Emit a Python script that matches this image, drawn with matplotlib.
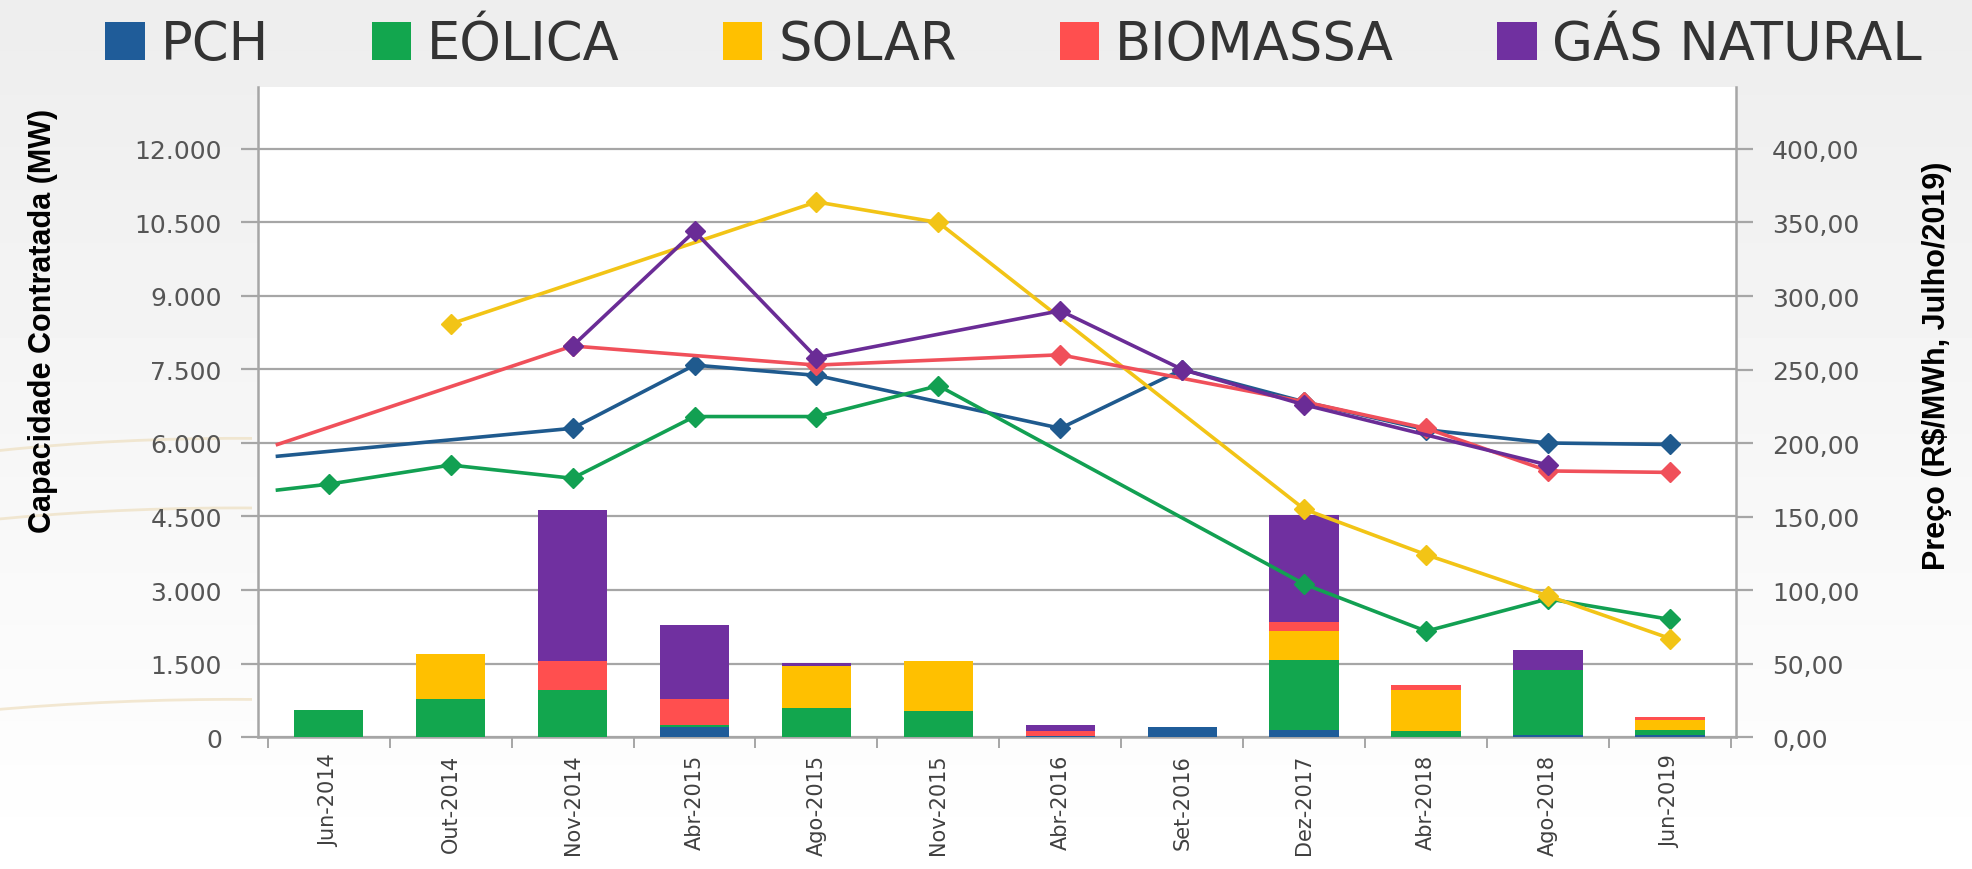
import numpy as np
import matplotlib
matplotlib.use('Agg')
import matplotlib.pyplot as plt
from matplotlib.patches import Patch, Arc, Rectangle

nan = np.nan

# dados
categorias = ['Jun-2014', 'Out-2014', 'Nov-2014', 'Abr-2015', 'Ago-2015', 'Nov-2015',
              'Abr-2016', 'Set-2016', 'Dez-2017', 'Abr-2018', 'Ago-2018', 'Jun-2019']
fontes = ['PCH', 'EÓLICA', 'SOLAR', 'BIOMASSA', 'GÁS NATURAL']

# capacidade contratada (MW), empilhada
pch = [0, 0, 0, 200, 0, 0, 20, 200, 150, 0, 40, 50]
eolica = [560, 770, 960, 40, 590, 530, 0, 0, 1430, 120, 1330, 90]
solar = [0, 920, 0, 0, 860, 1020, 0, 0, 580, 830, 0, 210]
biomassa = [0, 0, 600, 530, 0, 0, 110, 0, 190, 110, 0, 60]
gas = [0, 0, 3080, 1520, 70, 0, 110, 0, 2180, 0, 410, 0]

# preço (R$/MWh)
preco_pch = [nan, nan, 210, 253, 246, nan, 210, 250, 228, 209, 200, 199]
preco_eolica = [172, 185, 176, 218, 218, 239, nan, nan, 104, 72, 94, 80]
preco_solar = [nan, 281, nan, nan, 364, 350, nan, nan, 155, 124, 96, 67]
preco_biomassa = [nan, nan, 266, nan, 253, nan, 260, nan, 228, 210, 181, 180]
preco_gas = [nan, nan, 266, 344, 258, nan, 290, 250, 226, nan, 185, nan]
# leilão anterior (linha entra pela esquerda)
preco_anterior = [191, 168, nan, 199, nan]

cores_barra = ['#1F5C99', '#12A64E', '#FFC000', '#FF4F4F', '#7030A0']
cores_linha = ['#1F5A8E', '#12A052', '#F2C416', '#F0505A', '#6A2C96']

fig = plt.figure(figsize=(19.72, 8.7), dpi=100)

# fundo cinza claro com arcos discretos à esquerda
bg = fig.add_axes([0, 0, 1, 1], zorder=-10)
grad = np.linspace(0.93, 1.0, 100).reshape(-1, 1)
bg.imshow(grad, aspect='auto', cmap='gray', vmin=0, vmax=1, extent=[0, 1, 0, 1])
clip = Rectangle((0, 0), 0.128, 1, transform=bg.transAxes, visible=False)
bg.add_patch(clip)
for cy, w in [(0.02, 1.0), (-0.06, 1.05), (-0.28, 1.1)]:
    arco = Arc((0.12, cy), w, 0.95, theta1=60, theta2=175, color='#EEDFC0', lw=2, alpha=0.7)
    bg.add_patch(arco)
    arco.set_clip_path(clip)
bg.set_xlim(0, 1)
bg.set_ylim(0, 1)
bg.axis('off')

ax = fig.add_axes([0.1308, 0.1517, 0.7495, 0.7472])
ax.set_facecolor('white')
x = np.arange(len(categorias))

base = np.zeros(len(categorias))
for vals, cor in zip([pch, eolica, solar, biomassa, gas], cores_barra):
    ax.bar(x, vals, bottom=base, width=0.57, color=cor, zorder=3)
    base = base + np.array(vals)

ax.set_xlim(-0.58, 11.54)
ax.set_ylim(0, 13265)
yt = np.arange(0, 12001, 1500)
ax.set_yticks(yt)
ax.set_yticklabels([f'{v:,.0f}'.replace(',', '.') for v in yt], fontsize=18, color='#555555')
ax.yaxis.grid(True, color='#A6A6A6', lw=1.6, zorder=0)
ax.set_axisbelow(True)
ax.tick_params(axis='y', length=12, width=1.6, color='#A6A6A6', pad=14)

ax.set_xticks(x)
ax.set_xticklabels(categorias, rotation=90, fontsize=15, color='#404040')
ax.set_xticks(np.arange(-0.5, 11.6, 1), minor=True)
ax.tick_params(axis='x', which='major', length=0, pad=12)
ax.tick_params(axis='x', which='minor', length=8, width=1.4, color='#A6A6A6')

for s in ['top', 'right']:
    ax.spines[s].set_visible(False)
for s in ['left', 'bottom']:
    ax.spines[s].set_color('#A6A6A6')
    ax.spines[s].set_linewidth(1.8)

ax2 = ax.twinx()
ax2.set_ylim(0, 442.2)
pt = np.arange(0, 401, 50)
ax2.set_yticks(pt)
ax2.set_yticklabels([f'{v:.2f}'.replace('.', ',') for v in pt], fontsize=18, color='#555555')
ax2.tick_params(axis='y', length=12, width=1.6, color='#A6A6A6', pad=14)
for s in ['top', 'left', 'bottom']:
    ax2.spines[s].set_visible(False)
ax2.spines['right'].set_color('#A6A6A6')
ax2.spines['right'].set_linewidth(1.8)

series = [preco_pch, preco_eolica, preco_solar, preco_biomassa, preco_gas]
for serie, ant, cor in zip(series, preco_anterior, cores_linha):
    s = np.array(serie, dtype=float)
    ok = ~np.isnan(s)
    xs = x[ok].astype(float)
    ys = s[ok]
    if not np.isnan(ant):
        ax2.plot(np.r_[-0.42, xs[0]], [ant, ys[0]], color=cor, lw=2.6, zorder=4)
    ax2.plot(xs, ys, color=cor, lw=2.6, marker='D', markersize=10, zorder=5)

# rótulos dos eixos
fig.text(0.022, 0.631, 'Capacidade Contratada (MW)', rotation=90, ha='center', va='center',
         fontsize=22, fontweight='bold', family=['Liberation Sans', 'DejaVu Sans'])
fig.text(0.982, 0.58, 'Preço (R$/MWh, Julho/2019)', rotation=90, ha='center', va='center',
         fontsize=22, fontweight='bold', family=['Liberation Sans', 'DejaVu Sans'])

# legenda
handles = [Patch(facecolor=c, label=f) for c, f in zip(cores_barra, fontes)]
fig.legend(handles=handles, loc='center', bbox_to_anchor=(0.514, 0.948), ncol=5,
           frameon=False, fontsize=38, handlelength=0.75, handleheight=0.75,
           handletextpad=0.3, columnspacing=1.95, labelcolor='#333333')

fig.savefig('out.png', dpi=100)
